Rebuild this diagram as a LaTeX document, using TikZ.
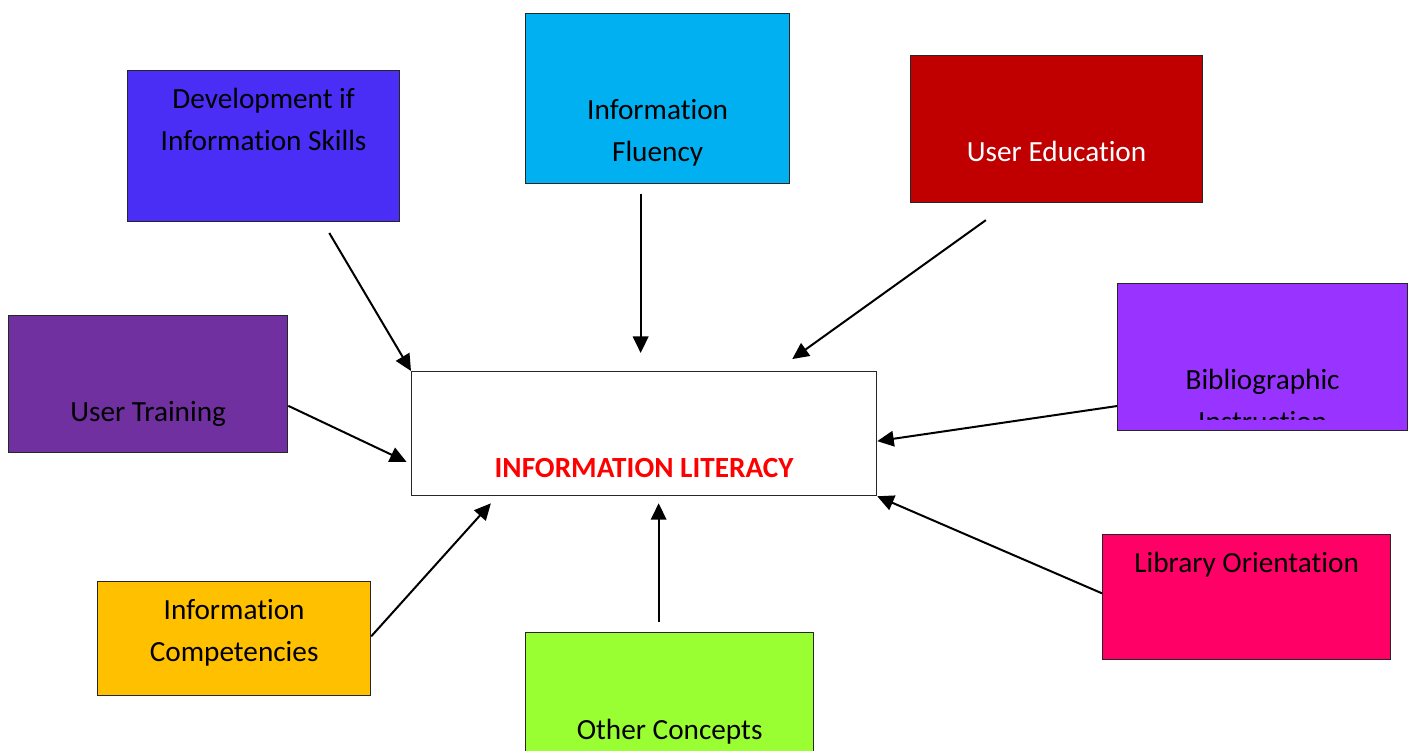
\documentclass[tikz,border=0pt]{standalone}
\usepackage{fontspec}
\setmainfont{Carlito}[RawFeature={-liga;-clig;-calt;-dlig}]
\usepackage{tikz}
\usetikzlibrary{arrows.meta, calc, positioning}
\definecolor{devblue}{HTML}{4A2EF5}
\definecolor{fluency}{HTML}{00B0F0}
\definecolor{edured}{HTML}{C00000}
\definecolor{biblio}{HTML}{9933FF}
\definecolor{training}{HTML}{7030A0}
\definecolor{compet}{HTML}{FFC000}
\definecolor{concept}{HTML}{99FF33}
\definecolor{orient}{HTML}{FF0066}
% text of a box: width, height, gap above first line, lines
\newcommand{\boxtxt}[4]{\parbox[c][#2][t]{#1}{\centering\vspace*{#3}\strut #4}}
\tikzstyle{box} = [rectangle, anchor=north west, inner sep=0pt, draw=black!85, line width=0.5pt, font=\fontsize{11.7}{16.8}\selectfont]
\tikzstyle{aro} = [-{Triangle[length=6.6pt,width=6.2pt]}, line width=0.8pt]

\begin{document}
\begin{tikzpicture}[x=0.4pt, y=-0.4pt]
  \useasboundingbox (0,0) rectangle (1415,751);

  \node (il) [box, fill=white, text=red, font=\fontsize{11.7}{16.8}\selectfont\bfseries] at (411,371)
    {\boxtxt{186pt}{49.6pt}{30.6pt}{INFORMATION LITERACY}};

  \node (dev) [box, fill=devblue] at (127,70)
    {\boxtxt{108.8pt}{60.4pt}{3.4pt}{Development if\\Information Skills}};
  \node (flu) [box, fill=fluency] at (525,13)
    {\boxtxt{105.6pt}{68pt}{30.6pt}{Information\\Fluency}};
  \node (edu) [box, fill=edured, text=white] at (910,55)
    {\boxtxt{116.8pt}{58.8pt}{30.6pt}{User Education}};
  \node (bib) [box, fill=biblio, minimum width=116pt, minimum height=58.8pt] at (1117,283) {};
  \begin{scope}
    \clip (bib.north west) rectangle ([yshift=4.8pt]bib.south east);
    \node (bibtxt) [box, draw=none] at (bib.north west)
      {\boxtxt{116pt}{75pt}{30.6pt}{Bibliographic\\Instruction}};
  \end{scope}
  \node (tr) [box, fill=training] at (8,315)
    {\boxtxt{111.6pt}{54.8pt}{30.4pt}{User Training}};
  \node (comp) [box, fill=compet] at (97,581)
    {\boxtxt{109.2pt}{45.6pt}{3.4pt}{Information\\Competencies}};
  \node (oth) [box, fill=concept] at (525,632)
    {\boxtxt{115.2pt}{56pt}{31pt}{Other Concepts}};
  \node (lib) [box, fill=orient] at (1102,534)
    {\boxtxt{115.2pt}{50pt}{3.4pt}{Library Orientation}};

  \coordinate (fs) at ($(flu.south west)!0.436!(flu.south east)$);
  \coordinate (os) at ($(oth.north west)!0.462!(oth.north east)$);

  \draw [aro, shorten <=5pt] ($(dev.south west)!0.717!(dev.south east)$) -- (il.north west);
  \draw [aro, shorten <=4pt, shorten >=7.2pt] (fs) -- (fs |- il.north);
  \draw [aro, shorten <=11.6pt, shorten >=8.2pt] ($(edu.south west)!0.339!(edu.south east)$)
    -- ($(il.north west)!0.782!(il.north east)$);
  \draw [aro] ($(bib.south west)!0.17!(bib.north west)$) -- ($(il.north east)!0.56!(il.south east)$);
  \draw [aro, shorten >=2pt] ($(tr.south east)!0.343!(tr.north east)$)
    -- ($(il.north west)!0.742!(il.south west)$);
  \draw [aro, shorten >=3.8pt] ($(comp.north east)!0.48!(comp.south east)$)
    -- ($(il.south west)!0.185!(il.south east)$);
  \draw [aro, shorten <=4pt, shorten >=2.8pt] (os) -- (os |- il.south);
  \draw [aro] ($(lib.north west)!0.47!(lib.south west)$) -- (il.south east);

\end{tikzpicture}
\end{document}
